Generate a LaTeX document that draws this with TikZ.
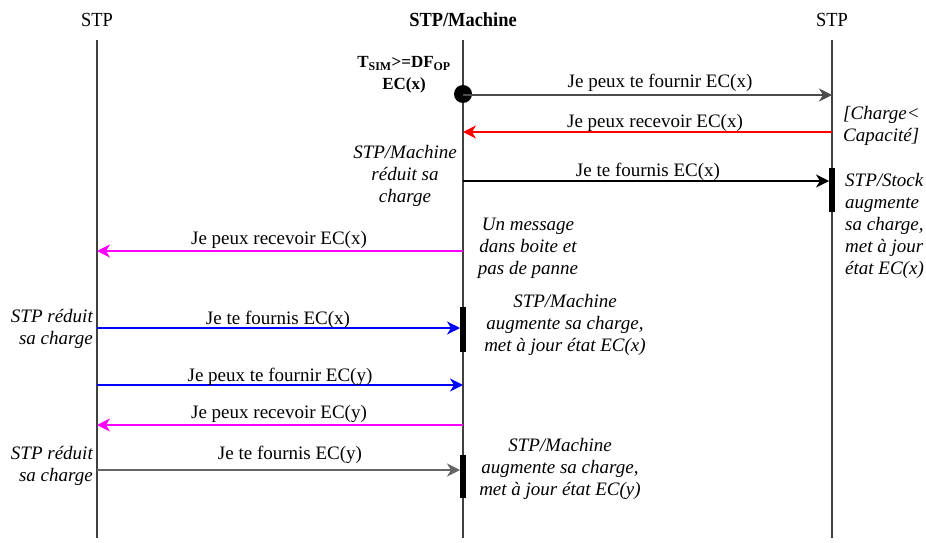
\documentclass[tikz,border=0pt]{standalone}
\usepackage{fontspec}
\setmainfont{Liberation Serif}
\newfontfamily\hdrfont{Liberation Serif}[FakeStretch=0.92]
\usetikzlibrary{arrows.meta}
\definecolor{mag}{RGB}{255,0,255}
\definecolor{redc}{RGB}{255,0,0}
\definecolor{bluec}{RGB}{0,0,255}
\begin{document}
\begin{tikzpicture}[x=1pt,y=-1pt,
  font=\fontsize{19}{22}\selectfont,
  life/.style={draw=black!75, line width=1.3pt},
  msg/.style={line width=1.3pt, -{Stealth[length=13pt,width=13pt,inset=4pt]}},
  lbl/.style={inner sep=0pt, anchor=base},
  note/.style={font=\fontsize{19}{22}\selectfont\itshape, align=center, inner sep=0pt},
  hdr/.style={inner sep=0pt, anchor=base, font=\hdrfont\fontsize{20}{24}\selectfont},
  bar/.style={fill=black, draw=none, minimum width=6pt, inner sep=0pt},
]
\useasboundingbox (0,0) rectangle (926,543);
% headers
\node[hdr] (hA) at (97,27) {STP};
\node[hdr, font=\hdrfont\fontsize{20}{24}\selectfont\bfseries] (hB) at (463,27) {STP/Machine};
\node[hdr] (hC) at (832,27) {STP};
% lifelines
\coordinate (At) at (97,40);  \coordinate (Ab) at (97,538);
\coordinate (Bt) at (463,40); \coordinate (Bb) at (463,538);
\coordinate (Ct) at (832,40); \coordinate (Cb) at (832,538);
\draw[life] (At) -- (Ab);
\draw[life] (Bt) -- (Bb);
\draw[life] (Ct) -- (Cb);
% activation bars
\node[bar, minimum height=44pt] (bar1) at (832,190) {};
\node[bar, minimum height=45pt] (bar2) at (463,329.5) {};
\node[bar, minimum height=43pt] (bar3) at (463,476.5) {};
% start circle
\node[circle, fill=black, minimum size=18pt, inner sep=0pt] (start) at (463,94) {};
% message end points
\coordinate (m1a) at (463,95);  \coordinate (m1b) at (832,95);
\coordinate (m2a) at (832,132); \coordinate (m2b) at (463,132);
\coordinate (m3a) at (463,181); \coordinate (m3b) at (829,181);
\coordinate (m4a) at (463,251); \coordinate (m4b) at (97,251);
\coordinate (m5a) at (97,328);  \coordinate (m5b) at (460,328);
\coordinate (m6a) at (97,385);  \coordinate (m6b) at (463,385);
\coordinate (m7a) at (463,425); \coordinate (m7b) at (97,425);
\coordinate (m8a) at (97,470);  \coordinate (m8b) at (460,470);
% messages
\draw[msg, draw=black!70] (m1a) -- (m1b);
\draw[msg, draw=redc] (m2a) -- (m2b);
\draw[msg, draw=black] (m3a) -- (m3b);
\draw[msg, draw=mag] (m4a) -- (m4b);
\draw[msg, draw=bluec] (m5a) -- (m5b);
\draw[msg, draw=bluec] (m6a) -- (m6b);
\draw[msg, draw=mag] (m7a) -- (m7b);
\draw[msg, draw=black!60] (m8a) -- (m8b);
% message labels
\node[lbl] (l1) at (660,88) {Je peux te fournir EC(x)};
\node[lbl] (l2) at (655,127) {Je peux recevoir EC(x)};
\node[lbl] (l3) at (648,176) {Je te fournis EC(x)};
\node[lbl] (l4) at (279,244) {Je peux recevoir EC(x)};
\node[lbl] (l5) at (278,324) {Je te fournis EC(x)};
\node[lbl] (l6) at (280,381) {Je peux te fournir EC(y)};
\node[lbl] (l7) at (279,418) {Je peux recevoir EC(y)};
\node[lbl] (l8) at (290,459) {Je te fournis EC(y)};
% notes
\node[inner sep=0pt, align=center, font=\fontsize{17}{22}\selectfont\bfseries] (n0) at (404,75) {T\textsubscript{SIM}>=DF\textsubscript{OP}\\EC(x)};
\node[note] (n1) at (405,176) {STP/Machine\\réduit sa\\charge};
\node[note] (n2) at (528,248) {Un message\\dans boite et\\pas de panne};
\node[note, align=left, anchor=west] (n3) at (843,126) {[Charge<\\Capacité]};
\node[note, align=left, anchor=west] (n4) at (845,226) {STP/Stock\\augmente\\sa charge,\\met à jour\\état EC(x)};
\node[note, align=right, anchor=east] (n5) at (93,329) {STP réduit\\sa charge};
\node[note] (n6) at (565,325) {STP/Machine\\augmente sa charge,\\met à jour état EC(x)};
\node[note, align=right, anchor=east] (n7) at (93,466) {STP réduit\\sa charge};
\node[note] (n8) at (560,469) {STP/Machine\\augmente sa charge,\\met à jour état EC(y)};
\end{tikzpicture}
\end{document}
